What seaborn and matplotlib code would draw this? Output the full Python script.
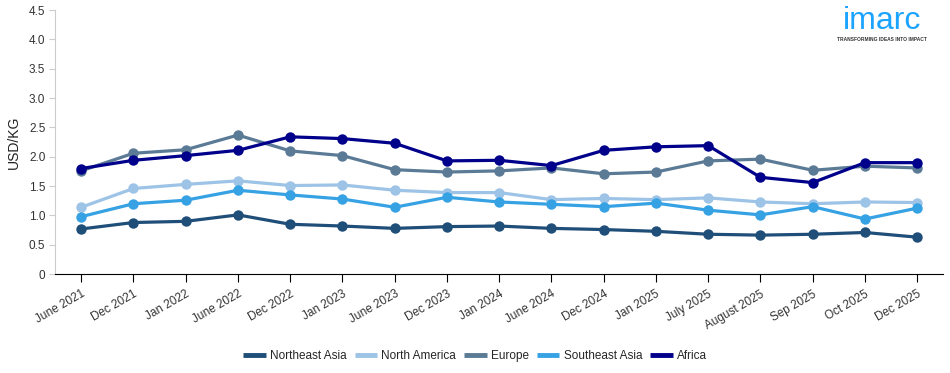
import numpy as np
import pandas as pd
import seaborn as sns
from matplotlib import pyplot as plt
from matplotlib.lines import Line2D

periods = ['June 2021', 'Dec 2021', 'Jan 2022', 'June 2022', 'Dec 2022', 'Jan 2023',
           'June 2023', 'Dec 2023', 'Jan 2024', 'June 2024', 'Dec 2024', 'Jan 2025',
           'July 2025', 'August 2025', 'Sep 2025', 'Oct 2025', 'Dec 2025']

northeast_asia = [0.77, 0.88, 0.90, 1.01, 0.85, 0.82, 0.78, 0.81, 0.82, 0.78,
                  0.76, 0.73, 0.68, 0.665, 0.68, 0.71, 0.63]
north_america = [1.14, 1.46, 1.53, 1.59, 1.51, 1.52, 1.43, 1.39, 1.39, 1.27,
                 1.29, 1.27, 1.30, 1.23, 1.20, 1.23, 1.22]
europe = [1.76, 2.06, 2.12, 2.37, 2.10, 2.02, 1.78, 1.74, 1.76, 1.81,
          1.71, 1.74, 1.93, 1.96, 1.77, 1.84, 1.81]
southeast_asia = [0.98, 1.20, 1.26, 1.43, 1.35, 1.28, 1.14, 1.31, 1.23, 1.19,
                  1.15, 1.21, 1.09, 1.01, 1.15, 0.94, 1.125]
africa = [1.80, 1.94, 2.02, 2.11, 2.34, 2.31, 2.23, 1.93, 1.94, 1.85,
          2.11, 2.17, 2.19, 1.65, 1.56, 1.90, 1.90]

regions = ['Northeast Asia', 'North America', 'Europe', 'Southeast Asia', 'Africa']
colors = ['#1f4e79', '#9dc3e6', '#5b7a95', '#36a2e4', '#00008b']
y_ticks = [0, 0.5, 1.0, 1.5, 2.0, 2.5, 3.0, 3.5, 4.0, 4.5]
y_ticklabels = ['0', '0.5', '1.0', '1.5', '2.0', '2.5', '3.0', '3.5', '4.0', '4.5']

series = [northeast_asia, north_america, europe, southeast_asia, africa]
df = pd.concat([pd.DataFrame({'period': periods, 'price': vals, 'region': name})
                for name, vals in zip(regions, series)], ignore_index=True)

sns.set_style('white')
plt.rcParams['font.family'] = ['Liberation Sans', 'DejaVu Sans']

fig = plt.figure(figsize=(9.5, 3.73), dpi=100)
ax = fig.add_axes([0.058, 0.265, 0.935, 0.708])

sns.lineplot(data=df, x='period', y='price', hue='region', hue_order=regions,
             palette=colors, marker='o', markersize=7.5, markeredgewidth=0,
             linewidth=2.3, sort=False, legend=False, ax=ax)

ax.set_xlim(-0.5, len(periods) - 0.5)
ax.set_ylim(0, 4.5)
ax.set_yticks(y_ticks)
ax.set_yticklabels(y_ticklabels, fontsize=8.5, color='#333333')
ax.set_xticks(range(len(periods)))
ax.set_xticklabels(periods, rotation=30, ha='right', rotation_mode='anchor',
                   fontsize=8.5, color='#333333')
ax.set_xlabel('')
ax.set_ylabel('USD/KG', fontsize=10, color='#222222', labelpad=6)

for s in ['top', 'right']:
    ax.spines[s].set_visible(False)
ax.spines['left'].set_color('#cccccc')
ax.spines['bottom'].set_color('#000000')
ax.tick_params(axis='y', left=True, length=4, color='#cccccc', pad=3)
ax.tick_params(axis='x', bottom=True, length=6, color='#000000', pad=4)

handles = [Line2D([0], [0], color=c, lw=3.5, solid_capstyle='butt') for c in colors]
fig.legend(handles, regions, loc='center', bbox_to_anchor=(0.5, 0.045), ncol=5,
           frameon=False, fontsize=8.5, handlelength=1.9, handletextpad=0.35,
           columnspacing=0.7)

fig.text(0.928, 0.945, 'imarc', fontsize=23, color='#1aa3ff',
         ha='center', va='center')
fig.text(0.928, 0.893, 'TRANSFORMING IDEAS INTO IMPACT', fontsize=3.5,
         color='#333333', fontweight='bold', ha='center', va='center')

plt.savefig('out.png', dpi=100)
